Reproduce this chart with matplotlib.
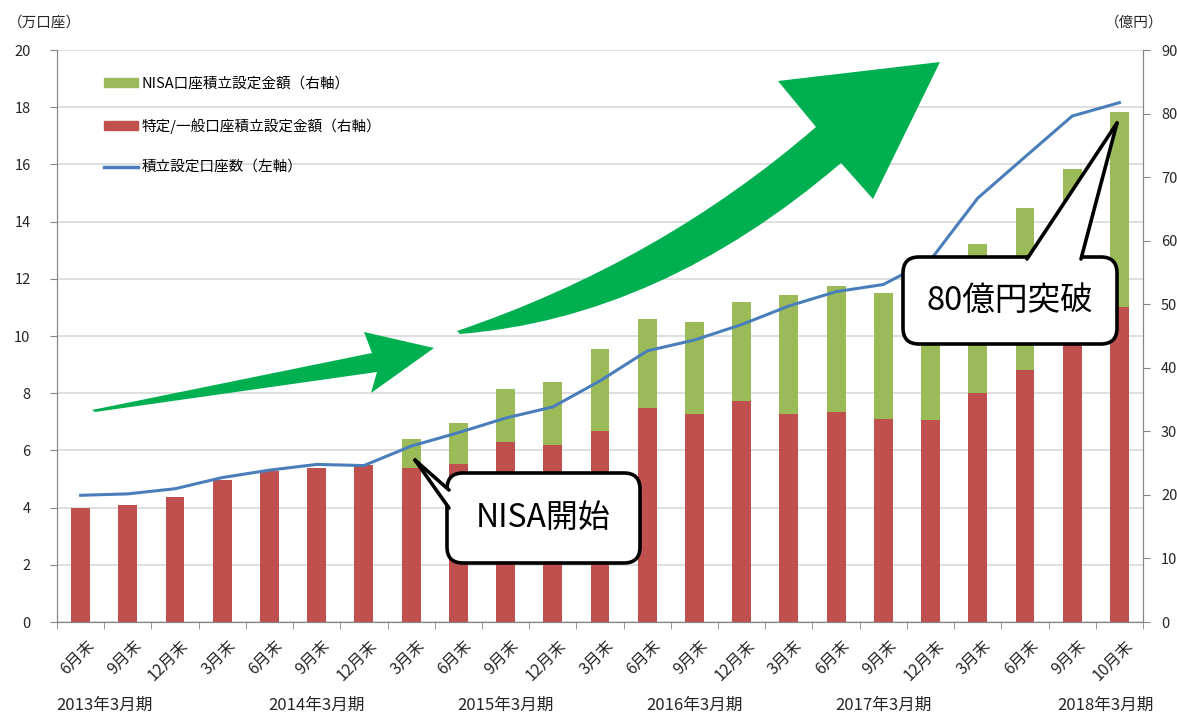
import numpy as np
import matplotlib
matplotlib.use("Agg")
import matplotlib.pyplot as plt
from matplotlib.patches import Polygon, FancyBboxPatch, Patch, PathPatch
from matplotlib.path import Path
from matplotlib.lines import Line2D
from matplotlib.transforms import Affine2D, ScaledTranslation, blended_transform_factory

plt.rcParams['font.family'] = ['Noto Sans CJK JP', 'DejaVu Sans']

# data
months = ['6月末', '9月末', '12月末', '3月末', '6月末', '9月末', '12月末', '3月末',
          '6月末', '9月末', '12月末', '3月末', '6月末', '9月末', '12月末', '3月末',
          '6月末', '9月末', '12月末', '3月末', '6月末', '9月末', '10月末']
periods = ['2013年3月期', '2014年3月期', '2015年3月期', '2016年3月期', '2017年3月期', '2018年3月期']
period_pos = [0.5, 5.0, 9.0, 13.0, 17.0, 21.7]
# 億円 (right axis)
tokutei = [18.0, 18.4, 19.7, 22.3, 23.8, 24.3, 24.7, 24.2, 24.9, 28.3, 27.9, 30.0,
           33.7, 32.8, 34.8, 32.8, 33.0, 32.0, 31.8, 36.1, 39.6, 45.0, 49.6]
nisa = [0, 0, 0, 0, 0, 0, 0, 4.6, 6.4, 8.4, 9.9, 12.9,
        14.0, 14.4, 15.5, 18.6, 19.8, 19.7, 23.5, 23.3, 25.6, 26.2, 30.6]
# 万口座 (left axis)
accounts = [4.43, 4.48, 4.66, 5.05, 5.31, 5.51, 5.47, 6.15, 6.62, 7.13, 7.52, 8.43,
            9.48, 9.86, 10.40, 11.05, 11.55, 11.80, 12.66, 14.82, 16.26, 17.69, 18.16]

W, H = 1177, 713
fig = plt.figure(figsize=(W / 100, H / 100), dpi=100)
ax = fig.add_axes([57 / W, 1 - 622 / H, (1143 - 57) / W, 572 / H])
ax2 = ax.twinx()
T = Affine2D().scale(0.01) + fig.dpi_scale_trans  # pixel coords, y up

x = np.arange(len(months))
red = '#C0504D'
green = '#9BBB59'
blue = '#4A7EBB'
gray = '#868686'
txt = '#262626'

# grid from left axis ticks (left 2 == right 9)
for v in np.arange(0, 21, 2):
    ax.axhline(v * 4.5, color='#D9D9D9', lw=1.2, zorder=0)

ax.bar(x, tokutei, width=0.4, color=red, zorder=2)
ax.bar(x, nisa, width=0.4, bottom=tokutei, color=green, zorder=2)
ax2.plot(x, accounts, color=blue, lw=2.2, zorder=3)

ax.set_xlim(-0.5, len(months) - 0.5)
ax.set_ylim(0, 90)
ax2.set_ylim(0, 20)
ax.set_yticks(np.arange(0, 91, 10))
ax2.set_yticks(np.arange(0, 21, 2))
ax.yaxis.tick_right()
ax2.yaxis.tick_left()

for a in (ax, ax2):
    a.spines['top'].set_visible(False)
    for s in ('left', 'right', 'bottom'):
        a.spines[s].set_color(gray)
ax.tick_params(axis='y', direction='out', length=5, color=gray, pad=8,
               labelsize=10.5, labelcolor=txt)
ax2.tick_params(axis='y', direction='out', length=5, color=gray, pad=14,
                labelsize=10.5, labelcolor=txt)

ax.set_xticks(x)
ax.set_xticklabels(months, rotation=45, ha='right', rotation_mode='anchor',
                   fontsize=11.5, color=txt)
ax.set_xticks(np.arange(-0.5, len(months), 1), minor=True)
ax.tick_params(axis='x', which='major', length=0, pad=11)
ax.tick_params(axis='x', which='minor', length=5, color=gray)
shift = ScaledTranslation(0.05, 0, fig.dpi_scale_trans)
for lab in ax.get_xticklabels():
    lab.set_transform(lab.get_transform() + shift)

bt = blended_transform_factory(ax.transData, fig.transFigure)
for p, name in zip(period_pos, periods):
    fig.text(p, 1 - 705 / H, name, transform=bt, ha='center', va='center',
             fontsize=12, color=txt)

fig.text(8, H - 23, '（万口座）', transform=T, ha='left', va='center', fontsize=10.5, color=txt)
fig.text(1163, H - 23, '（億円）', transform=T, ha='right', va='center', fontsize=10.5, color=txt)

# legend
handles = [Patch(color=green), Patch(color=red), Line2D([], [], color=blue, lw=2.5)]
labels = ['NISA口座積立設定金額（右軸）', '特定/一般口座積立設定金額（右軸）', '積立設定口座数（左軸）']
ax2.legend(handles, labels, loc='upper left', bbox_to_anchor=(104, H - 77),
           bbox_transform=T, frameon=False, fontsize=10.5, handlelength=2.3,
           handleheight=0.55, handletextpad=0.25, labelspacing=1.85, borderpad=0,
           borderaxespad=0)


def P(pts):
    return [(px, H - py) for px, py in pts]


arrow_green = '#00B050'
# straight arrow
arrow1 = P([(92, 410), (372, 353), (364, 332), (434, 348), (371, 393), (377, 372), (95, 412)])
fig.add_artist(Polygon(arrow1, closed=True, transform=T, color=arrow_green, lw=0, zorder=5))
# curved arrow: quadratic edges + head
verts = P([(457, 331), (660, 262), (816, 127),
           (778, 81), (940, 62), (873, 199), (841, 163),
           (660, 318), (460, 334), (457, 331)])
codes = [Path.MOVETO, Path.CURVE3, Path.CURVE3,
         Path.LINETO, Path.LINETO, Path.LINETO, Path.LINETO,
         Path.CURVE3, Path.CURVE3, Path.CLOSEPOLY]
fig.add_artist(PathPatch(Path(verts, codes), transform=T, color=arrow_green, lw=0, zorder=5))


def callout(x0, y0, x1, y1, base, tip, text, size):
    box = FancyBboxPatch((x0, H - y1), x1 - x0, y1 - y0,
                         boxstyle='round,pad=0,rounding_size=16', transform=T,
                         facecolor='white', edgecolor='black', lw=2.6, zorder=6)
    fig.add_artist(box)
    b1, b2 = base
    fig.add_artist(Polygon(P([b1, tip, b2]), closed=True, transform=T,
                           facecolor='white', edgecolor='none', zorder=7))
    for b in (b1, b2):
        fig.add_artist(Line2D([b[0], tip[0]], [H - b[1], H - tip[1]], transform=T,
                              color='black', lw=2.6, zorder=8, solid_capstyle='round'))
    fig.text((x0 + x1) / 2, H - (y0 + y1) / 2, text, transform=T, ha='center',
             va='center', fontsize=size, color='black', zorder=9)


callout(447, 473, 640, 563, ((449, 490), (449, 508)), (415, 460), 'NISA開始', 23)
callout(903, 257, 1117, 344, ((1027, 259), (1081, 259)), (1117, 123), '80億円突破', 23.5)

fig.savefig('out.png', dpi=100)
